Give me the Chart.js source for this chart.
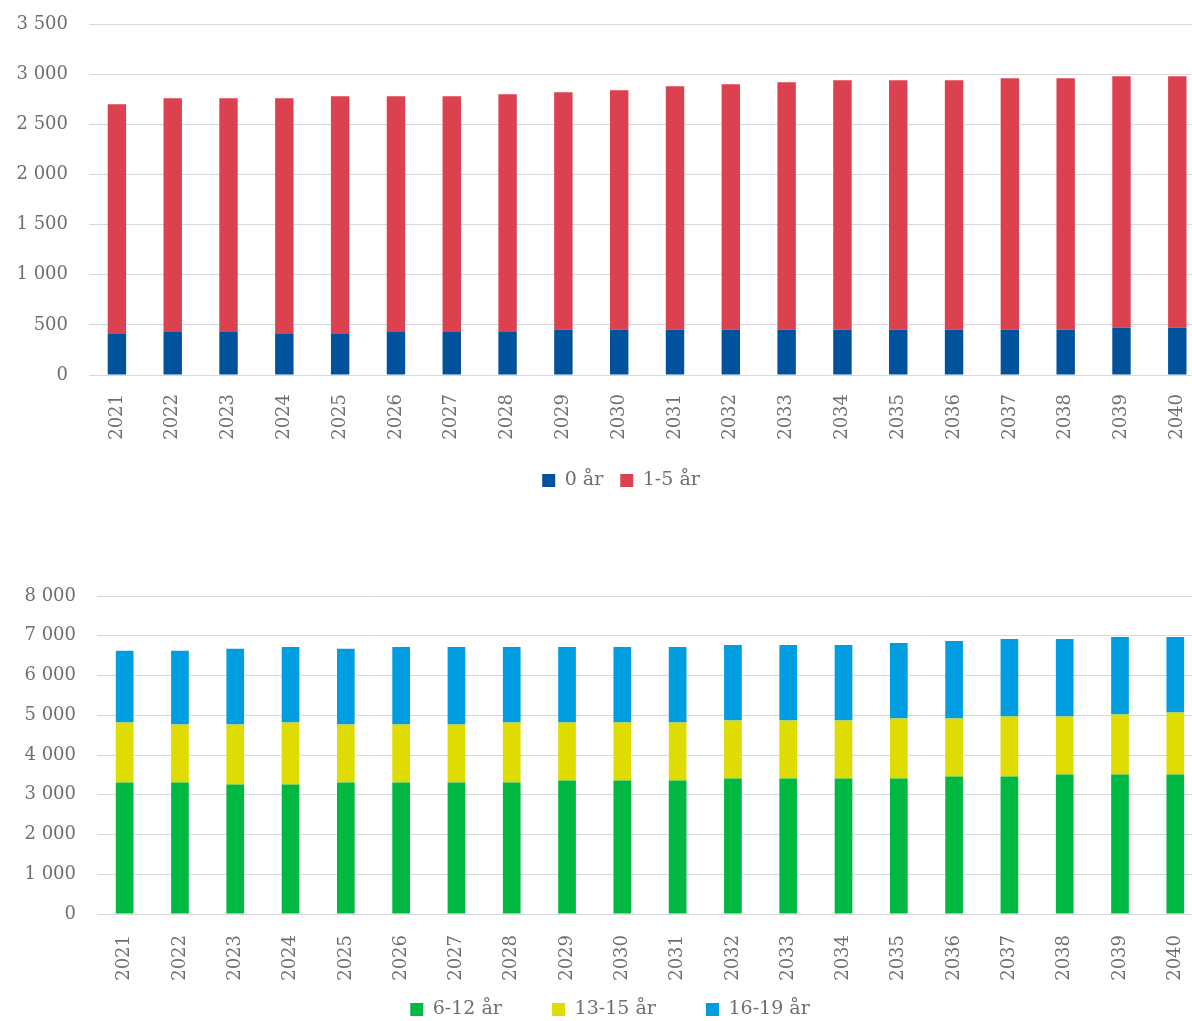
<!DOCTYPE html>
<html>
<head>
<meta charset="utf-8">
<script src="https://cdn.jsdelivr.net/npm/chart.js@4"></script>
<style>
  html, body {
    margin: 0;
    padding: 0;
    background: #fff;
    overflow: hidden;
  }
  #top, #bottom {
    position: absolute;
    left: 0;
  }
  #top { top: 0; }
  #bottom { top: 572px; }
</style>
</head>
<body>
<canvas id="top" width="1210" height="500"></canvas>
<canvas id="bottom" width="1210" height="457"></canvas>
<script>
const years = ['2021', '2022', '2023', '2024', '2025', '2026', '2027', '2028', '2029', '2030',
  '2031', '2032', '2033', '2034', '2035', '2036', '2037', '2038', '2039', '2040'];

// top chart
const age0 = [410, 430, 430, 410, 410, 430, 430, 430, 450, 450, 450, 450, 450, 450, 450, 450, 450, 450, 470, 470];
const age1to5 = [2290, 2330, 2330, 2350, 2370, 2350, 2350, 2370, 2370, 2390, 2430, 2450, 2470, 2490, 2490, 2490, 2510, 2510, 2510, 2510];

// bottom chart
const age6to12 = [3310, 3310, 3260, 3260, 3310, 3310, 3310, 3310, 3360, 3360, 3360, 3410, 3410, 3410, 3410, 3460, 3460, 3510, 3510, 3510];
const age13to15 = [1510, 1460, 1510, 1560, 1460, 1460, 1460, 1510, 1460, 1460, 1460, 1460, 1460, 1460, 1510, 1460, 1510, 1460, 1510, 1560];
const age16to19 = [1800, 1850, 1900, 1900, 1900, 1950, 1950, 1900, 1900, 1900, 1900, 1900, 1900, 1900, 1900, 1950, 1950, 1950, 1950, 1900];

const font = 'DejaVu Serif';
const textColor = '#6f6f6f';
const gridColor = '#d9d9d9';

const fmt = v => String(v).replace(/\B(?=(\d{3})+(?!\d))/g, ' ');

// nudge the legend sideways, the source chart centres it a bit right of the canvas middle
const legendShift = {
  id: 'legendShift',
  afterLayout(chart, args, o) {
    chart.legend.left += o.dx;
    chart.legend.right += o.dx;
  }
};

function makeChart(id, datasets, opts) {
  const ctx = document.getElementById(id).getContext('2d');
  return new Chart(ctx, {
    type: 'bar',
    plugins: [legendShift],
    data: {
      labels: years,
      datasets: datasets.map(d => Object.assign({
        categoryPercentage: 1,
        barPercentage: opts.barPct,
        borderWidth: 0
      }, d))
    },
    options: {
      responsive: false,
      animation: false,
      devicePixelRatio: 1,
      layout: {
        padding: {top: 24, right: 4, left: 0, bottom: 0}
      },
      plugins: {
        tooltip: {enabled: false},
        legendShift: {dx: opts.legendDx},
        legend: {
          position: 'bottom',
          labels: {
            boxWidth: 13,
            boxHeight: 13,
            padding: opts.legendPad,
            color: textColor,
            font: {family: font, size: 19},
            // wider gaps between items without making the legend taller
            generateLabels: chart => {
              const items = Chart.defaults.plugins.legend.labels.generateLabels(chart);
              items.forEach((it, i) => {
                if (i < items.length - 1) it.text += '\u00a0'.repeat(opts.legendGap);
              });
              return items;
            }
          }
        }
      },
      scales: {
        x: {
          stacked: true,
          grid: {display: false},
          border: {display: false},
          ticks: {
            color: textColor,
            font: {family: font, size: 18},
            minRotation: 90,
            maxRotation: 90,
            padding: opts.xPad,
            autoSkip: false
          },
          afterFit: s => { s.height = opts.xHeight; }
        },
        y: {
          stacked: true,
          min: 0,
          max: opts.max,
          border: {display: false},
          grid: {color: gridColor, lineWidth: 1, drawTicks: true, tickLength: 21, tickColor: 'rgba(0,0,0,0)'},
          ticks: {
            stepSize: opts.step,
            color: textColor,
            font: {family: font, size: 18},
            padding: 0,
            callback: v => fmt(v)
          },
          afterFit: s => { s.width = opts.yWidth; }
        }
      }
    }
  });
}

makeChart('top', [
  {label: '0 år', data: age0, backgroundColor: '#00529c'},
  {label: '1-5 år', data: age1to5, backgroundColor: '#dc4150'}
], {max: 3500, step: 500, yWidth: 89, xHeight: 79, xPad: 11, legendPad: 17, legendGap: 0, legendDx: 18, barPct: 0.33});

makeChart('bottom', [
  {label: '6-12 år', data: age6to12, backgroundColor: '#00b943'},
  {label: '13-15 år', data: age13to15, backgroundColor: '#dedc00'},
  {label: '16-19 år', data: age16to19, backgroundColor: '#009ee0'}
], {max: 8000, step: 1000, yWidth: 97, xHeight: 66, xPad: 13, legendPad: 20, legendGap: 5, legendDx: 7, barPct: 0.32});
</script>
</body>
</html>
